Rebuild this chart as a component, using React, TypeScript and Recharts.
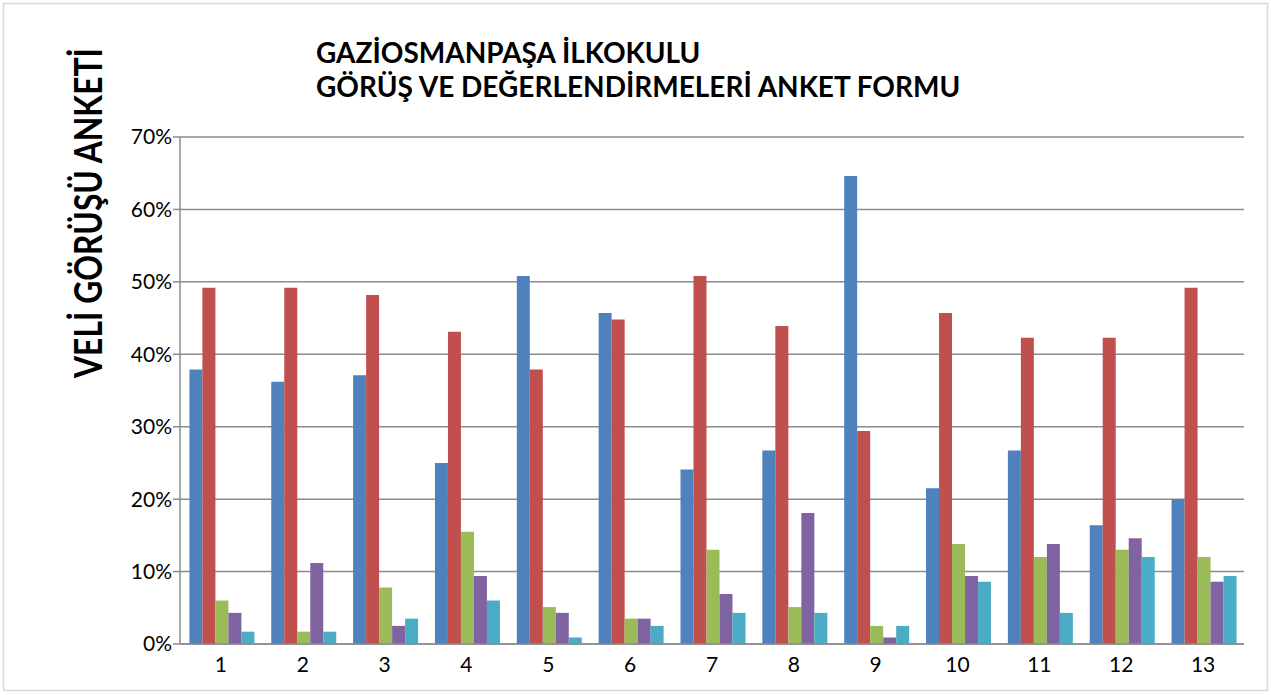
import React from 'react';
import { BarChart, Bar, XAxis, YAxis, CartesianGrid } from 'recharts';

const questions = ['1', '2', '3', '4', '5', '6', '7', '8', '9', '10', '11', '12', '13'];

// answer shares in percent, one array per answer option
const option1 = [37.9, 36.2, 37.1, 25.0, 50.8, 45.7, 24.1, 26.7, 64.6, 21.5, 26.7, 16.4, 20.0];
const option2 = [49.2, 49.2, 48.2, 43.1, 37.9, 44.8, 50.8, 43.9, 29.4, 45.7, 42.3, 42.3, 49.2];
const option3 = [6.0, 1.7, 7.8, 15.5, 5.1, 3.5, 13.0, 5.1, 2.5, 13.8, 12.0, 13.0, 12.0];
const option4 = [4.3, 11.2, 2.5, 9.4, 4.3, 3.5, 6.9, 18.1, 0.9, 9.4, 13.8, 14.6, 8.6];
const option5 = [1.7, 1.7, 3.5, 6.0, 0.9, 2.5, 4.3, 4.3, 2.5, 8.6, 4.3, 12.0, 9.4];

const yTicks = [0, 10, 20, 30, 40, 50, 60, 70];

const titleLines = ['GAZİOSMANPAŞA İLKOKULU', 'GÖRÜŞ VE DEĞERLENDİRMELERİ ANKET FORMU'];
const yLabel = 'VELİ GÖRÜŞÜ ANKETİ';

const COLORS = ['#4F81BD', '#C0504D', '#9BBB59', '#8064A2', '#4BACC6'];

const data = questions.map((q, i) => ({
  q,
  o1: option1[i],
  o2: option2[i],
  o3: option3[i],
  o4: option4[i],
  o5: option5[i],
}));

const W = 1271;
const H = 695;
const FONT = 'Lato, "Open Sans", sans-serif';

export default function App() {
  return (
    <div style={{ position: 'absolute', left: 0, top: 0, width: W, height: H, background: '#fff' }}>
      <BarChart
        width={W}
        height={H}
        data={data}
        margin={{ top: 137, right: 27, bottom: 21, left: 120 }}
        barCategoryGap="11.5%"
        barGap={0}
      >
        <CartesianGrid vertical={false} stroke="#8c8c8c" strokeWidth={1.5} />
        <XAxis
          dataKey="q"
          height={30}
          axisLine={{ stroke: '#8c8c8c', strokeWidth: 1.5 }}
          tickLine={false}
          tickSize={6}
          tickMargin={7}
          tick={{ fontSize: 21, fill: '#000', fontFamily: FONT }}
        />
        <YAxis
          width={60}
          domain={[0, 70]}
          ticks={yTicks}
          interval={0}
          tickFormatter={(v) => `${v}%`}
          axisLine={{ stroke: '#8c8c8c', strokeWidth: 1.5 }}
          tickLine={{ stroke: '#8c8c8c', strokeWidth: 1.5 }}
          tickSize={7}
          tickMargin={1}
          tick={{ fontSize: 21, fill: '#000', fontFamily: FONT }}
        />
        <Bar dataKey="o1" fill={COLORS[0]} isAnimationActive={false} />
        <Bar dataKey="o2" fill={COLORS[1]} isAnimationActive={false} />
        <Bar dataKey="o3" fill={COLORS[2]} isAnimationActive={false} />
        <Bar dataKey="o4" fill={COLORS[3]} isAnimationActive={false} />
        <Bar dataKey="o5" fill={COLORS[4]} isAnimationActive={false} />
      </BarChart>

      {/* title, rotated axis title and the outer frame */}
      <svg
        width={W}
        height={H}
        style={{ position: 'absolute', left: 0, top: 0, pointerEvents: 'none' }}
      >
        <rect x={3.5} y={3.5} width={1264} height={687} fill="none" stroke="#d9d9d9" strokeWidth={1.5} />
        {titleLines.map((line, i) => (
          <text
            key={i}
            x={316}
            y={63 + i * 34}
            fontFamily={FONT}
            fontWeight="bold"
            fontSize={28}
            fill="#000"
          >
            {line}
          </text>
        ))}
        <g transform="translate(102, 213) rotate(-90)">
          <text
            x={0}
            y={0}
            textAnchor="middle"
            fontFamily={FONT}
            fontWeight="bold"
            fontSize={38}
            textLength={330}
            lengthAdjust="spacingAndGlyphs"
            fill="#000"
          >
            {yLabel}
          </text>
        </g>
      </svg>
    </div>
  );
}
